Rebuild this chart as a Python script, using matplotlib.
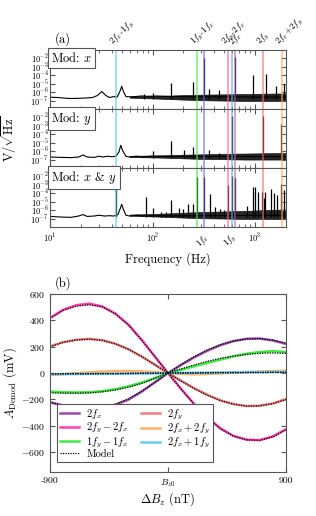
import numpy as np
import matplotlib
matplotlib.use('Agg')
import matplotlib.pyplot as plt
from matplotlib.transforms import blended_transform_factory

plt.rcParams['font.family'] = 'serif'
plt.rcParams['font.serif'] = ['cmr10', 'DejaVu Serif']
plt.rcParams['mathtext.fontset'] = 'cm'
plt.rcParams['axes.formatter.use_mathtext'] = True
plt.rcParams['axes.unicode_minus'] = True

# modulation frequencies (Hz)
fx = 318
fy = 592

# ---------------- spectra (a) ----------------
# slowly varying floor incl. broad low-frequency bumps
base_x_f = [10, 12, 15, 18, 22, 26, 29, 32, 35, 38, 42, 45, 48, 50, 52, 55, 60, 68, 78, 90, 110, 130, 150, 2000]
base_x_a = [2.5e-7, 2.3e-7, 1.8e-7, 1.8e-7, 2.0e-7, 2.3e-7, 4e-7, 1.2e-6, 4e-7, 2.3e-7, 3e-7, 2.5e-7, 1.2e-6, 5e-6, 1.2e-6, 3e-7, 2.8e-7, 3e-7, 3.5e-7, 3.2e-7, 3.5e-7, 3.2e-7, 3e-7, 2.5e-7]
peaks_x_f = [82, 100, 150, 250, 318, 355, 445, 636, 950, 1280, 1590, 1900]
peaks_x_a = [6e-7, 7e-7, 1.2e-5, 1.5e-5, 1.1e-2, 2.5e-6, 2e-6, 1.3e-2, 1e-4, 1.3e-4, 5e-6, 1e-5]

base_y_f = [10, 13, 16, 19, 21, 23, 27, 30, 33, 36, 40, 44, 47, 49, 51, 55, 60, 70, 80, 95, 2000]
base_y_a = [2e-7, 1.8e-7, 1.7e-7, 2e-7, 3.5e-7, 2e-7, 1.8e-7, 2.5e-7, 2e-7, 2.5e-7, 2.2e-7, 2.5e-7, 8e-7, 5e-6, 1.2e-6, 2.5e-7, 2e-7, 2.5e-7, 2e-7, 2.5e-7, 2.2e-7]
peaks_y_f = [100, 152, 203, 250, 355, 445, 590, 1184, 1780]
peaks_y_a = [1e-6, 1.6e-5, 1.4e-6, 3.5e-6, 1.4e-6, 6e-7, 1.5e-2, 1.5e-2, 1.5e-3]

base_xy_f = [10, 13, 16, 19, 21, 23, 27, 30, 34, 38, 42, 46, 48, 50, 52, 55, 60, 70, 80, 2000]
base_xy_a = [1.8e-7, 1.5e-7, 1.4e-7, 2e-7, 3e-7, 1.8e-7, 2e-7, 2.5e-7, 2e-7, 2.2e-7, 2e-7, 3e-7, 1.2e-6, 5e-6, 1.2e-6, 2.5e-7, 2e-7, 2.5e-7, 2e-7, 2.5e-7]
peaks_xy_f = [44, 87, 100, 120, 134, 152, 180, 196, 224, 250, 274, 318, 363, 410, 450, 500, 548, 590, 636,
              830, 960, 1000, 1070, 1160, 1210, 1240, 1420, 1520, 1630, 1800, 1920]
peaks_xy_a = [3e-4, 4e-5, 2e-6, 6e-7, 6e-7, 1.7e-5, 1.6e-6, 1.3e-6, 6e-6, 5.6e-6, 9e-3, 9e-3, 9e-5, 2.5e-6, 1.3e-6, 1e-6, 9e-4, 1.2e-2, 6e-3,
              3e-6, 5.6e-4, 5e-4, 1.4e-4, 1.4e-4, 2.5e-5, 1.4e-4, 3.5e-4, 1e-4, 5.6e-5, 1.4e-3, 2.5e-4]

# noise band envelope at higher frequencies
band_f = [60, 100, 150, 200, 300, 500, 800, 1200, 2000]
band_lo_x = [2.2e-7, 1.8e-7, 1.5e-7, 1.3e-7, 1.1e-7, 1e-7, 9e-8, 9e-8, 9e-8]
band_hi_x = [3e-7, 3.5e-7, 4e-7, 4.5e-7, 5e-7, 5.5e-7, 6e-7, 6.5e-7, 7e-7]
band_lo_y = [2e-7, 1.8e-7, 1.6e-7, 1.4e-7, 1.2e-7, 1.1e-7, 1e-7, 1e-7, 1e-7]
band_hi_y = [2.8e-7, 3e-7, 3.3e-7, 3.8e-7, 4.2e-7, 4.8e-7, 5.2e-7, 5.6e-7, 6e-7]
band_lo_xy = [2.2e-7, 1.8e-7, 1.5e-7, 1.3e-7, 1.1e-7, 1e-7, 9e-8, 9e-8, 9e-8]
band_hi_xy = [3e-7, 3.5e-7, 4.2e-7, 5e-7, 6e-7, 7e-7, 8e-7, 1e-6, 1.2e-6]

panels = [
    ('Mod: $x$', base_x_f, base_x_a, peaks_x_f, peaks_x_a, band_lo_x, band_hi_x),
    ('Mod: $y$', base_y_f, base_y_a, peaks_y_f, peaks_y_a, band_lo_y, band_hi_y),
    ('Mod: $x$ & $y$', base_xy_f, base_xy_a, peaks_xy_f, peaks_xy_a, band_lo_xy, band_hi_xy),
]

marker_names = ['$2f_x$-$1f_y$', '', '$1f_y$-$1f_x$', '', '$2f_y$-$2f_x$', '$2f_x$', '$2f_y$', '$2f_x$+$2f_y$']
marker_freqs = [2 * fx - fy, fx, fy - fx, fy, 2 * fy - 2 * fx, 2 * fx, 2 * fy, 2 * fx + 2 * fy]
marker_colors = ['#5bc8f5', '#6b6bef', '#44ee44', '#5fb3b3', '#ff5fb0', '#b060c8', '#ff6b6b', '#ffaa55']

# ---------------- demodulated amplitudes (b) ----------------
dBz = [-900, -800, -700, -600, -500, -400, -300, -200, -100, 0, 100, 200, 300, 400, 500, 600, 700, 800, 900]
a_2fx = [-222, -245, -260, -266, -262, -240, -200, -140, -70, 0, 62, 120, 170, 212, 243, 260, 262, 248, 222]
a_2fy_2fx = [418, 480, 515, 527, 505, 450, 365, 250, 125, 0, -120, -235, -335, -420, -477, -505, -508, -480, -426]
a_1fy_1fx = [-140, -145, -147, -145, -137, -122, -100, -72, -38, 0, 25, 52, 78, 103, 127, 147, 160, 166, 160]
a_2fy = [202, 235, 253, 260, 250, 222, 180, 125, 63, 0, -58, -115, -165, -207, -235, -250, -247, -230, -198]
a_2fx_2fy = [-15, -8, 0, 6, 11, 15, 16, 13, 7, 0, -6, -8, -6, -2, 3, 8, 12, 16, 18]
a_2fx_1fy = [-8, -7, -7, -6, -6, -5, -4, -3, -2, 0, 2, 3, 4, 5, 6, 7, 7, 8, 8]

m_2fx = [-218, -248, -265, -268, -258, -235, -195, -137, -70, 0, 65, 125, 176, 215, 244, 260, 262, 250, 226]
m_2fy_2fx = [415, 475, 508, 518, 502, 450, 365, 252, 127, 0, -122, -238, -338, -422, -478, -506, -510, -484, -430]
m_1fy_1fx = [-150, -152, -152, -150, -142, -128, -106, -78, -40, 0, 32, 62, 90, 112, 130, 142, 150, 153, 150]
m_2fy = [200, 233, 251, 257, 248, 222, 180, 126, 64, 0, -60, -117, -167, -208, -236, -250, -248, -232, -200]
m_2fx_2fy = [-5, -5, -4, -4, -3, -3, -2, -1, -1, 0, 1, 1, 2, 3, 3, 4, 4, 5, 5]
m_2fx_1fy = [-6, -6, -5, -5, -4, -4, -3, -2, -1, 0, 1, 2, 3, 4, 4, 5, 5, 6, 6]

series = [
    ('$2f_x$', a_2fx, m_2fx, '#9a4aa8'),
    ('$2f_y-2f_x$', a_2fy_2fx, m_2fy_2fx, '#ff3fae'),
    ('$1f_y-1f_x$', a_1fy_1fx, m_1fy_1fx, '#3ee83e'),
    ('$2f_y$', a_2fy, m_2fy, '#f47c7c'),
    ('$2f_x+2f_y$', a_2fx_2fy, m_2fx_2fy, '#ffb066'),
    ('$2f_x+1f_y$', a_2fx_1fy, m_2fx_1fy, '#6ccaf2'),
]

edge = '#555555'
fig = plt.figure(figsize=(3.16, 5.16), dpi=100)

# ---- (a) ----
left, right = 50 / 316, 286 / 316
top_a, bot_a = 1 - 50 / 516, 1 - 227 / 516
h = (top_a - bot_a) / 3
spec_axes = []
for i, (name, bf, ba, pf, pa, blo, bhi) in enumerate(panels):
    ax = fig.add_axes([left, top_a - (i + 1) * h, right - left, h])
    ax.plot(bf, ba, color='black', lw=0.8)
    ax.fill_between(band_f, blo, bhi, color='black', lw=0.5, alpha=0.85)
    ax.vlines(pf, 1.5e-7, pa, color='black', lw=0.9)
    for f, c in zip(marker_freqs, marker_colors):
        ax.axvline(f, color=c, lw=1.1, alpha=0.75)
    ax.set_xscale('log')
    ax.set_yscale('log')
    ax.set_xlim(10, 2000)
    ax.set_ylim(1e-8, 1e-1)
    ax.set_yticks([1e-2, 1e-3, 1e-4, 1e-5, 1e-6, 1e-7])
    ax.yaxis.set_minor_locator(matplotlib.ticker.NullLocator())
    ax.tick_params(which='both', direction='in', top=True, right=True, labelsize=6, colors=edge, labelcolor='black')
    ax.tick_params(axis='y', pad=1)
    for s in ax.spines.values():
        s.set_color(edge)
    ax.text(0.005, 0.985, name, transform=ax.transAxes, ha='left', va='top', fontsize=9,
            bbox=dict(boxstyle='square,pad=0.25', fc='white', ec=edge, lw=0.8))
    if i < 2:
        ax.tick_params(axis='x', which='both', labelbottom=False)
    spec_axes.append(ax)

ax0 = spec_axes[0]
tr = blended_transform_factory(ax0.transData, ax0.transAxes)
for f, lab in zip(marker_freqs, marker_names):
    if lab:
        ax0.text(f, 1.03, lab, transform=tr, rotation=45, ha='left', va='bottom',
                 rotation_mode='anchor', fontsize=6.5)
ax0.text(0.02, 1.07, '(a)', transform=ax0.transAxes, fontsize=9, ha='left', va='bottom')

ax2 = spec_axes[2]
ax2.set_xlabel('Frequency (Hz)', fontsize=9, labelpad=5)
tr2 = blended_transform_factory(ax2.transData, ax2.transAxes)
for f, lab in zip([fx, fy], ['$1f_x$', '$1f_y$']):
    ax2.text(f, -0.08, lab, transform=tr2, rotation=45, ha='right', va='top',
             rotation_mode='anchor', fontsize=6.5)
fig.text(0.03, (top_a + bot_a) / 2, r'V/$\sqrt{\rm Hz}$', rotation=90, ha='center', va='center', fontsize=9)

# ---- (b) ----
axb = fig.add_axes([left, 1 - 472 / 516, right - left, (472 - 294) / 516])
for lab, a, m, c in series:
    axb.plot(dBz, a, color=c, lw=1.8, label=lab)
for lab, a, m, c in series:
    axb.plot(dBz, m, color='black', lw=0.9, ls=(0, (1, 1)))
axb.plot([], [], color='black', lw=0.9, ls=(0, (1, 1)), label='Model')
axb.set_xlim(-900, 900)
axb.set_ylim(-750, 600)
axb.set_xticks([-900, 0, 900])
axb.set_xticklabels(['-900', '$B_{z0}$', '900'])
axb.set_yticks([600, 400, 200, 0, -200, -400, -600])
axb.tick_params(direction='in', top=True, right=True, labelsize=7, colors=edge, labelcolor='black')
for s in axb.spines.values():
    s.set_color(edge)
axb.set_xlabel(r'$\Delta B_z$ (nT)', fontsize=9, labelpad=1)
axb.set_ylabel(r'$A_{\rm Demod}$ (mV)', fontsize=9, labelpad=2)
axb.text(0.02, 1.02, '(b)', transform=axb.transAxes, fontsize=9, ha='left', va='bottom')

handles, labels = axb.get_legend_handles_labels()
order = [0, 1, 2, 6, 3, 4, 5]
leg = axb.legend([handles[k] for k in order], [labels[k] for k in order], ncol=2,
                 loc='lower left', bbox_to_anchor=(0.03, 0.055), borderaxespad=0, fontsize=7.5,
                 handlelength=1.8, handletextpad=0.7, columnspacing=1.2,
                 labelspacing=0.0, borderpad=0.3, fancybox=False, framealpha=1)
leg.get_frame().set_edgecolor(edge)
leg.get_frame().set_linewidth(0.8)

fig.savefig('out.png', dpi=100)
